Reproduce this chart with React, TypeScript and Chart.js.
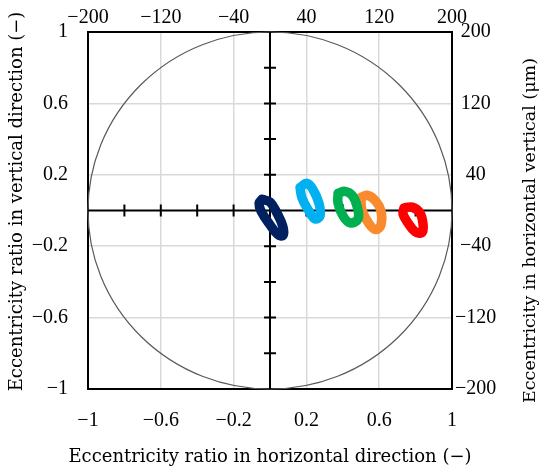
import { useEffect, useRef } from 'react';
import { Chart, registerables } from 'chart.js';

Chart.register(...registerables);

// eccentricity ratio axis ticks (bottom / left)
const RATIO_TICKS = [-1, -0.6, -0.2, 0.2, 0.6, 1];
// eccentricity in micrometres (top / right)
const UM_TICKS = [-200, -120, -40, 40, 120, 200];
// small cross ticks on the centre axes
const CENTER_TICKS = [-0.8, -0.6, -0.4, -0.2, 0.2, 0.4, 0.6, 0.8];
const CLEARANCE_RADIUS = 1;

const X_TITLE = 'Eccentricity ratio in horizontal direction (\u2212)';
const Y_TITLE = 'Eccentricity ratio in vertical direction (\u2212)';
const Y2_TITLE = 'Eccentricity in horizontal vertical (\u03bcm)';

// shaft centre orbits, [x, y] in eccentricity ratio
const ORBIT_NAVY = [
  [-0.044, 0.063], [0.0, 0.047], [0.038, -0.014], [0.071, -0.091], [0.071, -0.14],
  [0.044, -0.135], [0.0, -0.08], [-0.049, -0.003], [-0.06, 0.041], [-0.044, 0.063],
];
const ORBIT_SKY = [
  [0.165, 0.129], [0.203, 0.152], [0.236, 0.118], [0.269, 0.041], [0.275, -0.03],
  [0.247, -0.047], [0.214, -0.003], [0.176, 0.069], [0.165, 0.129],
];
const ORBIT_GREEN = [
  [0.374, 0.096], [0.412, 0.107], [0.451, 0.085], [0.478, 0.025], [0.484, -0.047],
  [0.44, -0.069], [0.401, -0.03], [0.374, 0.041], [0.374, 0.096],
];
const ORBIT_ORANGE = [
  [0.5, 0.074], [0.538, 0.085], [0.582, 0.052], [0.61, -0.003], [0.61, -0.08],
  [0.582, -0.107], [0.544, -0.074], [0.505, 0.003], [0.5, 0.074],
];
const ORBIT_RED = [
  [0.736, 0.014], [0.78, 0.019], [0.824, -0.014], [0.841, -0.08], [0.835, -0.124],
  [0.797, -0.118], [0.758, -0.069], [0.731, -0.019], [0.736, 0.014],
];

const ORBITS = [
  { pts: ORBIT_NAVY, color: '#002060' },
  { pts: ORBIT_SKY, color: '#00B0F0' },
  { pts: ORBIT_GREEN, color: '#00B050' },
  { pts: ORBIT_ORANGE, color: '#F98A2E' },
  { pts: ORBIT_RED, color: '#FF0000' },
];

const TICK_FONT = "'Liberation Serif', 'Times New Roman', serif";
const TITLE_FONT = "'DejaVu Serif', 'Liberation Serif', serif";
const minus = (v: number | string) => String(v).replace('-', '\u2212');

const guides = {
  id: 'guides',
  beforeDatasetsDraw(chart: any) {
    const { ctx, scales } = chart;
    const x = scales.x;
    const y = scales.y;
    const cx = x.getPixelForValue(0);
    const cy = y.getPixelForValue(0);
    const rx = x.getPixelForValue(CLEARANCE_RADIUS) - cx;
    const ry = cy - y.getPixelForValue(CLEARANCE_RADIUS);
    ctx.save();
    ctx.strokeStyle = '#595959';
    ctx.lineWidth = 1.2;
    ctx.beginPath();
    ctx.ellipse(cx, cy, rx, ry, 0, 0, Math.PI * 2);
    ctx.stroke();

    ctx.strokeStyle = '#000';
    ctx.lineWidth = 2;
    ctx.beginPath();
    ctx.moveTo(x.left, cy);
    ctx.lineTo(x.right, cy);
    ctx.moveTo(cx, y.top);
    ctx.lineTo(cx, y.bottom);
    const half = 6;
    CENTER_TICKS.forEach((v) => {
      const px = x.getPixelForValue(v);
      ctx.moveTo(px, cy - half);
      ctx.lineTo(px, cy + half);
      const py = y.getPixelForValue(v);
      ctx.moveTo(cx - half, py);
      ctx.lineTo(cx + half, py);
    });
    ctx.stroke();
    ctx.restore();
  },
  afterDraw(chart: any) {
    // axis titles drawn by hand so they are not squeezed to the axis length
    const { ctx, chartArea } = chart;
    const midX = (chartArea.left + chartArea.right) / 2;
    const midY = (chartArea.top + chartArea.bottom) / 2;
    ctx.save();
    ctx.fillStyle = '#000';
    ctx.font = `18px ${TITLE_FONT}`;
    ctx.textAlign = 'center';
    ctx.textBaseline = 'middle';
    ctx.fillText(X_TITLE, midX, chart.height - 19);

    ctx.save();
    ctx.translate(17, midY - 9);
    ctx.rotate(-Math.PI / 2);
    ctx.fillText(Y_TITLE, 0, 0);
    ctx.restore();

    ctx.save();
    ctx.font = `17.5px ${TITLE_FONT}`;
    ctx.translate(chart.width - 20, midY + 20);
    ctx.rotate(-Math.PI / 2);
    ctx.fillText(Y2_TITLE, 0, 0);
    ctx.restore();
    ctx.restore();
  },
};

export default function App() {
  const canvasRef = useRef<HTMLCanvasElement>(null);

  useEffect(() => {
    document.body.style.margin = '0';
    if (!canvasRef.current) return;

    const tickFont = { family: TICK_FONT, size: 20 };
    const border = { display: true, color: '#000', width: 2 };

    const chart = new Chart(canvasRef.current, {
      type: 'scatter',
      data: {
        datasets: ORBITS.map((o) => ({
          data: o.pts.map(([px, py]) => ({ x: px, y: py })),
          showLine: true,
          borderColor: o.color,
          backgroundColor: o.color,
          borderWidth: 9.5,
          pointRadius: 0,
          tension: 0.4,
          borderJoinStyle: 'round' as const,
          borderCapStyle: 'round' as const,
        })),
      },
      options: {
        responsive: false,
        animation: false,
        layout: { padding: 0 },
        plugins: { legend: { display: false }, tooltip: { enabled: false } },
        scales: {
          x: {
            type: 'linear',
            position: 'bottom',
            min: -1,
            max: 1,
            afterBuildTicks: (s: any) => { s.ticks = RATIO_TICKS.map((v) => ({ value: v })); },
            afterFit: (s: any) => { s.height = 87; },
            grid: { color: '#d9d9d9', lineWidth: 1.5, drawTicks: false },
            border,
            ticks: { color: '#000', font: tickFont, padding: 20, maxRotation: 0, callback: (v: any) => minus(v) },
          },
          x2: {
            type: 'linear',
            position: 'top',
            min: -200,
            max: 200,
            afterBuildTicks: (s: any) => { s.ticks = UM_TICKS.map((v) => ({ value: v })); },
            afterFit: (s: any) => { s.height = 27; },
            grid: { drawOnChartArea: false, drawTicks: false },
            border,
            ticks: { color: '#000', font: tickFont, padding: 2, maxRotation: 0, callback: (v: any) => minus(v) },
          },
          y: {
            type: 'linear',
            position: 'left',
            min: -1,
            max: 1,
            afterBuildTicks: (s: any) => { s.ticks = RATIO_TICKS.map((v) => ({ value: v })); },
            afterFit: (s: any) => { s.width = 88; },
            grid: { color: '#d9d9d9', lineWidth: 1.5, drawTicks: false },
            border,
            ticks: { color: '#000', font: tickFont, padding: 20, callback: (v: any) => minus(v) },
          },
          y2: {
            type: 'linear',
            position: 'right',
            min: -200,
            max: 200,
            afterBuildTicks: (s: any) => { s.ticks = UM_TICKS.map((v) => ({ value: v })); },
            afterFit: (s: any) => { s.width = 98; },
            grid: { drawOnChartArea: false, drawTicks: false },
            border,
            ticks: { color: '#000', font: tickFont, padding: 3, crossAlign: 'center', callback: (v: any) => minus(v) },
          },
        },
      },
      plugins: [guides],
    });

    return () => chart.destroy();
  }, []);

  return (
    <div style={{ width: 550, height: 476, background: '#fff' }}>
      <canvas ref={canvasRef} width={550} height={476} />
    </div>
  );
}
